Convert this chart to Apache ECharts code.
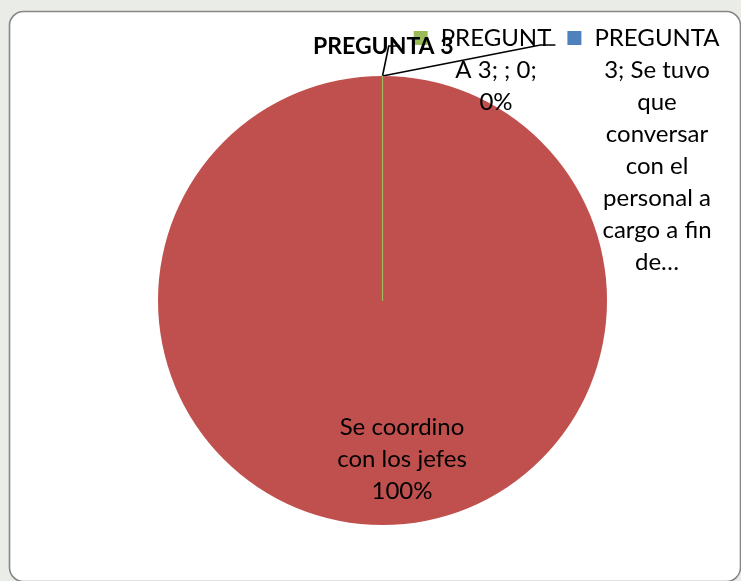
<!DOCTYPE html>
<html>
<head>
<meta charset="utf-8">
<title>PREGUNTA 3</title>
<script src="https://cdn.jsdelivr.net/npm/echarts@6/dist/echarts.min.js"></script>
<style>
  html, body { margin: 0; padding: 0; background: #e9ece7; }
  #chart { width: 741px; height: 581px; }
</style>
</head>
<body>
<div id="chart"></div>
<script>
// Survey answers for question 3
const seriesName = 'PREGUNTA 3';
const categories = ['Se coordino con los jefes', '', 'Se tuvo que conversar con el personal a cargo a fin de…'];
const values = [100, 0, 0];
const colors = ['#C0504D', '#9BBB59', '#4F81BD'];

// Label templates: {a} series, {b} category, {c} value, {d} percent
const labelTemplates = ['{b}\n{d}%', '{a}; {b}; {c}; {d}%', '{a}; {b}'];
// Characters per wrapped label line
const labelWrap = [[11, 13, 4], [7, 9, 2], [8, 10, 3, 9, 6, 10, 11, 3]];

const FONT = 'Lato, "Noto Sans", sans-serif';
const LABEL_SIZE = 24;
const KEY_W = 14, KEY_GAP = 13;

function fillTemplate(tpl, p) {
  return tpl
    .replace('{a}', p.seriesName)
    .replace('{b}', p.name)
    .replace('{c}', p.value)
    .replace('{d}', Math.round(p.percent));
}

function wrapText(text, counts) {
  const flat = text.replace(/\n/g, ' ');
  const lines = [];
  let pos = 0;
  counts.forEach(function (n) {
    while (flat[pos] === ' ') pos++;
    lines.push(flat.substr(pos, n));
    pos += n;
  });
  return lines;
}

function labelLines(i, p) {
  return wrapText(fillTemplate(labelTemplates[i], p), labelWrap[i]);
}

const measureCtx = document.createElement('canvas').getContext('2d');
function textWidth(str) {
  measureCtx.font = LABEL_SIZE + 'px ' + FONT;
  return measureCtx.measureText(str).width;
}

// Label anchor spots (text block centre / top) and leader geometry
const labelSpots = [
  { x: 402, y: 459, va: 'middle' },
  { x: 496, y: 22, va: 'top', lead: { gap: 14, run: 11, dy: 24 } },
  { x: 657, y: 22, va: 'top', lead: { gap: 12, run: 15, dy: 23 } }
];

const keyNames = ['', 'kG', 'kB'];

const data = categories.map(function (name, i) {
  const outer = i > 0;
  return {
    name: name,
    value: values[i],
    itemStyle: {
      color: colors[i],
      borderColor: colors[i],
      borderWidth: i === 1 ? 1.2 : 0
    },
    label: {
      position: outer ? 'outside' : 'inside'
    },
    labelLine: { show: outer }
  };
});

const rich = {
  kG: { width: KEY_W, height: KEY_W, lineHeight: 32, backgroundColor: colors[1] },
  kB: { width: KEY_W, height: KEY_W, lineHeight: 32, backgroundColor: colors[2] },
  g: { width: KEY_GAP, height: KEY_W, lineHeight: 32 },
  s: { width: KEY_W + KEY_GAP, height: KEY_W, lineHeight: 32 }
};

const chart = echarts.init(document.getElementById('chart'), null, { renderer: 'canvas' });

chart.setOption({
  animation: false,
  backgroundColor: 'transparent',
  graphic: [{
    type: 'rect',
    z: -10,
    silent: true,
    shape: { x: 9.5, y: 11.5, width: 731, height: 570, r: 14 },
    style: { fill: '#ffffff', stroke: '#868686', lineWidth: 1.6 }
  }],
  title: {
    text: seriesName,
    left: 313,
    top: 35,
    padding: 0,
    textStyle: { fontFamily: FONT, fontWeight: 'bold', fontSize: 23, color: '#000000' }
  },
  series: [{
    type: 'pie',
    name: seriesName,
    center: [382.5, 300.5],
    radius: 224.5,
    startAngle: 90,
    clockwise: true,
    avoidLabelOverlap: false,
    silent: true,
    emphasis: { disabled: true },
    label: {
      show: true,
      fontFamily: FONT,
      fontSize: LABEL_SIZE,
      lineHeight: 32,
      color: '#000000',
      align: 'center',
      rich: rich,
      formatter: function (p) {
        const i = p.dataIndex;
        const lines = labelLines(i, p);
        if (keyNames[i]) {
          lines[0] = '{' + keyNames[i] + '|}{g|}' + lines[0] + '{s|}';
        }
        return lines.join('\n');
      }
    },
    labelLine: {
      show: true,
      length: 10,
      length2: 10,
      lineStyle: { color: '#000000', width: 1.6 }
    },
    labelLayout: function (p) {
      const i = p.dataIndex;
      const spot = labelSpots[i];
      const out = { x: spot.x, y: spot.y, align: 'center', verticalAlign: spot.va };
      if (spot.lead && p.labelLinePoints) {
        const item = chart.getModel().getSeriesByIndex(0).getData();
        const firstLine = labelLines(i, {
          seriesName: seriesName,
          name: item.getName(i),
          value: item.get('value', i),
          percent: values[i] / values.reduce(function (a, b) { return a + b; }, 0) * 100
        })[0];
        const keyLeft = spot.x - (textWidth(firstLine) + 2 * (KEY_W + KEY_GAP)) / 2;
        const start = p.labelLinePoints[0];
        const endX = keyLeft - spot.lead.gap;
        const lineY = spot.y + spot.lead.dy;
        out.labelLinePoints = [start, [endX - spot.lead.run, lineY], [endX, lineY]];
      }
      return out;
    },
    data: data
  }]
});
</script>
</body>
</html>
